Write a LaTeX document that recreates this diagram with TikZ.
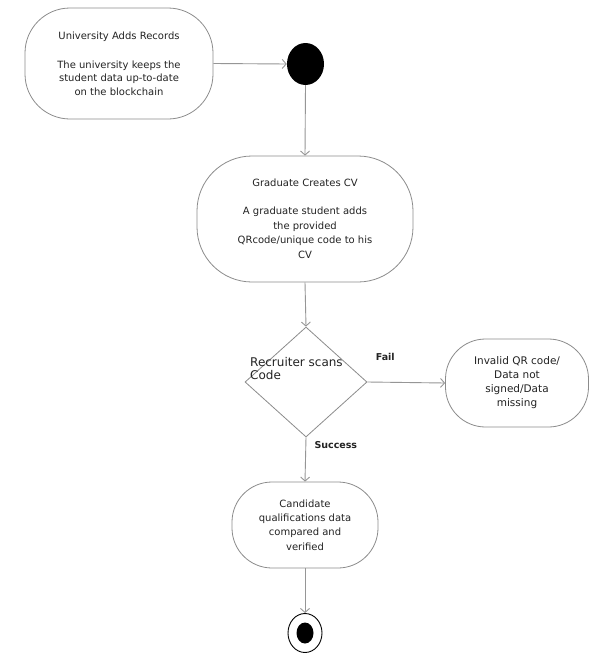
\documentclass[tikz,border=0pt]{standalone}
\usepackage{fontspec}
\setmainfont{DejaVu Sans}
\usetikzlibrary{shapes.geometric,arrows.meta}
\definecolor{linegray}{RGB}{150,150,150}
\definecolor{boxgray}{RGB}{140,140,140}
\definecolor{txt}{RGB}{35,35,35}
\begin{document}
\begin{tikzpicture}[x=1pt,y=-1pt,
  flow/.style={draw=linegray, line width=0.9pt, -{Straight Barb[length=4pt,width=9pt]}},
  stadium/.style={draw=boxgray, line width=0.8pt, fill=white, align=center, text=txt,
    inner sep=0pt, font=\fontsize{10}{13.5}\selectfont},
  edgelabel/.style={font=\bfseries\fontsize{9.5}{11}\selectfont, text=txt, inner sep=1pt}
]
\fill[white] (0,0) rectangle (589,653);
\useasboundingbox (0,0) rectangle (589,653);

% nodes
\node[stadium, minimum width=188pt, minimum height=111pt, rounded corners=45pt] (univ) at (119,63.5)
  {University Adds Records\\[15.5pt]The university keeps the\\student data up-to-date\\on the blockchain};
\node[ellipse, fill=black, minimum width=37pt, minimum height=42pt, inner sep=0pt] (init) at (305.5,64) {};
\node[stadium, minimum width=216pt, minimum height=126pt, rounded corners=55pt,
  font=\fontsize{10}{14.5}\selectfont] (grad) at (305,219)
  {Graduate Creates CV\\[13.5pt]A graduate student adds\\the provided\\QRcode/unique code to his\\CV};
\node[diamond, draw=boxgray, line width=0.8pt, fill=white, minimum width=122pt, minimum height=110pt, inner sep=0pt] (dec) at (306,382) {};
\node[anchor=west, align=left, text=txt, inner sep=0pt, font=\fontsize{12}{13.5}\selectfont] (dectext) at (250,368.5)
  {Recruiter scans\\Code};
\node[stadium, minimum width=143pt, minimum height=88pt, rounded corners=40pt,
  font=\fontsize{10.5}{14}\selectfont] (inval) at (517,383)
  {Invalid QR code/\\Data not\\signed/Data\\missing};
\node[stadium, minimum width=146pt, minimum height=86pt, rounded corners=40pt,
  font=\fontsize{10}{14.3}\selectfont] (cand) at (305,525)
  {Candidate\\qualifications data\\compared and\\verified};
\node[ellipse, draw=black, line width=0.9pt, minimum width=34pt, minimum height=39pt, inner sep=0pt] (fin) at (305,633) {};
\node[ellipse, fill=black, minimum width=17pt, minimum height=21pt, inner sep=0pt] (finin) at (fin.center) {};

% connectors
\draw[flow] (univ.east) -- (init.west);
\draw[flow] (init.south) -- (grad.north);
\draw[flow] (grad.south) -- (dec.north);
\draw[flow] (dec.east) -- node[edgelabel, pos=0.23, yshift=25pt] (faillbl) {Fail} (inval.west);
\draw[flow] (dec.south) -- node[edgelabel, pos=0.18, xshift=30pt] (succlbl) {Success} (cand.north);
\draw[flow] (cand.south) -- (fin.north);
\end{tikzpicture}
\end{document}
